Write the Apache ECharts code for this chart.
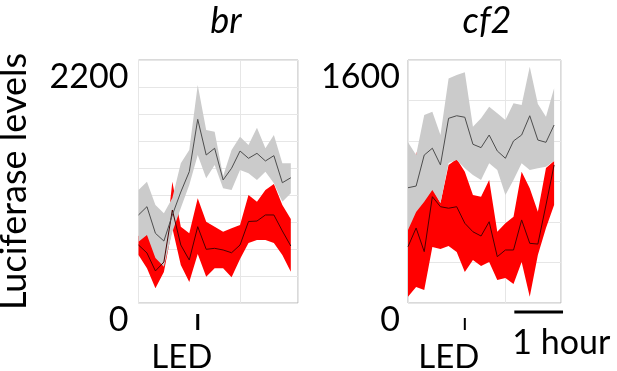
<!DOCTYPE html>
<html>
<head>
<meta charset="utf-8">
<script src="https://cdn.jsdelivr.net/npm/echarts@6/dist/echarts.min.js"></script>
<style>
  html, body { margin: 0; padding: 0; background: #fff; }
  #chart { width: 617px; height: 371px; }
</style>
</head>
<body>
<div id="chart"></div>
<script>
// time of each sample, minutes
const times = [0, 10, 20, 30, 40, 50, 60, 70, 80, 90, 100, 110, 120, 130, 140, 150, 160, 170, 180]
const ledTime = 70

// br panel
const brGrayMean = [797, 872, 631, 561, 797, 1005, 1189, 1663, 1340, 1401, 1114, 1220, 1376, 1310, 1355, 1286, 1334, 1089, 1134]
const brGrayUpper = [1023, 1098, 887, 812, 951, 1265, 1385, 1974, 1566, 1551, 1150, 1385, 1506, 1430, 1587, 1401, 1521, 1265, 1265]
const brGrayLower = [555, 616, 407, 329, 643, 860, 1068, 1340, 1129, 1249, 1038, 1023, 1204, 1174, 1114, 1189, 1084, 917, 993]
const brRedMean = [525, 453, 290, 371, 842, 525, 389, 691, 486, 495, 480, 455, 525, 738, 742, 797, 797, 652, 516]
const brRedUpper = [607, 643, 435, 407, 1098, 691, 631, 948, 736, 691, 646, 676, 706, 978, 917, 1023, 1077, 887, 760]
const brRedLower = [435, 314, 133, 281, 679, 344, 190, 444, 238, 314, 314, 233, 398, 543, 570, 570, 543, 435, 283]

// cf2 panel
const cf2GrayMean = [759, 770, 974, 1019, 909, 1216, 1233, 1223, 1045, 1023, 1106, 1001, 953, 1067, 1106, 1233, 1073, 1058, 1172]
const cf2GrayUpper = [1058, 974, 1238, 1260, 1106, 1479, 1501, 1519, 1161, 1216, 1293, 1249, 1205, 1315, 1304, 1556, 1310, 1227, 1414]
const cf2GrayLower = [481, 599, 667, 744, 658, 922, 942, 887, 843, 810, 920, 876, 711, 810, 920, 876, 887, 897, 935]
const cf2RedMean = [371, 494, 338, 700, 634, 624, 634, 525, 469, 441, 535, 305, 349, 349, 547, 393, 388, 645, 909]
const cf2RedUpper = [507, 996, 678, 755, 658, 909, 948, 865, 711, 700, 810, 469, 525, 568, 865, 755, 601, 889, 935]
const cf2RedLower = [41, 105, 86, 369, 356, 375, 336, 204, 283, 244, 270, 151, 165, 125, 270, 41, 316, 494, 645]

const panelTitles = ['br', 'cf2']
const yMax = [2200, 1600]
const yGridSteps = [9, 6]
const xMax = 188.5
const xGridInterval = 120
const scaleBarMinutes = 60

const font = 'Lato, "Open Sans", sans-serif'
const redColor = '#ff0000'
const grayColor = '#cbcbcb'

// shaded band between lower and upper, drawn as one polygon through the axes
function bandSeries(upper, lower, color, axisIdx) {
  return {
    type: 'custom', xAxisIndex: axisIdx, yAxisIndex: axisIdx * 2, silent: true,
    data: times.map((t, i) => [t, lower[i], upper[i]]),
    encode: { x: 0, y: [1, 2] },
    renderItem: (params, api) => {
      if (params.dataIndex !== 0) return
      const top = times.map((t, i) => api.coord([t, upper[i]]))
      const bottom = times.map((t, i) => api.coord([t, lower[i]])).reverse()
      return { type: 'polygon', shape: { points: top.concat(bottom) }, style: { fill: color } }
    }
  }
}
function meanSeries(mean, color, axisIdx) {
  return {
    type: 'line', xAxisIndex: axisIdx, yAxisIndex: axisIdx * 2, silent: true,
    data: times.map((t, i) => [t, mean[i]]), showSymbol: false,
    lineStyle: { color, width: 1 }
  }
}

const myChart = echarts.init(document.getElementById('chart'), null, { renderer: 'canvas' })

const mainX = (gridIndex) => ({
  type: 'value', gridIndex, min: 0, max: xMax, interval: xGridInterval,
  axisLine: { show: false }, axisTick: { show: false }, axisLabel: { show: false },
  splitLine: { show: true, lineStyle: { color: '#e6e6e6', width: 1 } }
})
const ledX = (gridIndex, offset, margin) => ({
  type: 'value', gridIndex, min: 0, max: xMax, position: 'bottom', offset,
  axisLine: { show: false },
  splitLine: { show: false },
  axisTick: { show: false },
  axisLabel: {
    show: true, customValues: [ledTime], formatter: () => 'LED',
    color: '#000', fontFamily: font, fontSize: 33, margin, padding: [0, 32, 0, 0]
  }
})
const gridY = (gridIndex, p, withName) => ({
  type: 'value', gridIndex, position: 'left', min: 0, max: yMax[p], interval: yMax[p] / yGridSteps[p],
  axisLine: { show: false }, axisTick: { show: false }, axisLabel: { show: false },
  splitLine: { show: true, lineStyle: { color: '#e6e6e6', width: 1 } },
  name: withName ? 'Luciferase levels' : '',
  nameLocation: 'middle', nameRotate: 90, nameGap: 106,
  nameTextStyle: { color: '#000', fontFamily: font, fontSize: 36 }
})
const labelY = (gridIndex, p, margin) => ({
  type: 'value', gridIndex, position: 'left', min: 0, max: yMax[p], interval: yMax[p],
  axisLine: { show: false }, axisTick: { show: false }, splitLine: { show: false },
  axisLabel: {
    show: true, color: '#000', fontFamily: font, fontSize: 34, margin, verticalAlign: 'top',
    formatter: (v) => String(v)
  }
})

const option = {
  animation: false,
  backgroundColor: '#fff',
  title: panelTitles.map((t, i) => ({
    text: t, left: i === 0 ? 221 : 482, top: -2, textAlign: 'center',
    textStyle: { fontFamily: font, fontStyle: 'italic', fontWeight: 'normal', fontSize: 36, color: '#000' }
  })),
  grid: [
    { left: 138.5, top: 60, width: 159.5, height: 243, show: true, borderColor: '#b4b4b4', borderWidth: 1, backgroundColor: 'transparent', outerBoundsMode: 'none', containLabel: false },
    { left: 408, top: 60, width: 153, height: 243, show: true, borderColor: '#b4b4b4', borderWidth: 1, backgroundColor: 'transparent', outerBoundsMode: 'none', containLabel: false }
  ],
  xAxis: [mainX(0), mainX(1), ledX(0, 11, 27), ledX(1, 15, 23)],
  yAxis: [gridY(0, 0, true), labelY(0, 0, 10), gridY(1, 1, false), labelY(1, 1, 8)],
  series: [
    bandSeries(brRedUpper, brRedLower, redColor, 0),
    meanSeries(brRedMean, '#4a0000', 0),
    bandSeries(brGrayUpper, brGrayLower, grayColor, 0),
    meanSeries(brGrayMean, '#4d4d4d', 0),
    bandSeries(cf2RedUpper, cf2RedLower, redColor, 1),
    meanSeries(cf2RedMean, '#4a0000', 1),
    bandSeries(cf2GrayUpper, cf2GrayLower, grayColor, 1),
    meanSeries(cf2GrayMean, '#4d4d4d', 1)
  ]
}
myChart.setOption(option)

// LED markers and the 1 hour scale bar, placed through the axis scales
const ledLeftX = myChart.convertToPixel({ xAxisIndex: 0 }, ledTime)
const ledRightX = myChart.convertToPixel({ xAxisIndex: 1 }, ledTime)
const bottomY = myChart.convertToPixel({ yAxisIndex: 2 }, 0)
const barEnd = myChart.convertToPixel({ xAxisIndex: 1 }, xMax + 2.5)
const barStart = myChart.convertToPixel({ xAxisIndex: 1 }, xMax + 2.5 - scaleBarMinutes)
const barY = bottomY + 9
myChart.setOption({
  graphic: [
    { type: 'line', silent: true, shape: { x1: ledLeftX, y1: bottomY + 11, x2: ledLeftX, y2: bottomY + 27 }, style: { stroke: '#000', lineWidth: 3 } },
    { type: 'line', silent: true, shape: { x1: ledRightX, y1: bottomY + 15, x2: ledRightX, y2: bottomY + 27 }, style: { stroke: '#000', lineWidth: 2 } },
    { type: 'line', silent: true, shape: { x1: barStart, y1: barY, x2: barEnd, y2: barY }, style: { stroke: '#000', lineWidth: 3 } },
    { type: 'text', silent: true, left: barStart - 2, top: barY + 14, style: { text: '1 hour', fill: '#000', font: '34px ' + font } }
  ]
})

window.addEventListener('resize', () => myChart && myChart.resize())
</script>
</body>
</html>
